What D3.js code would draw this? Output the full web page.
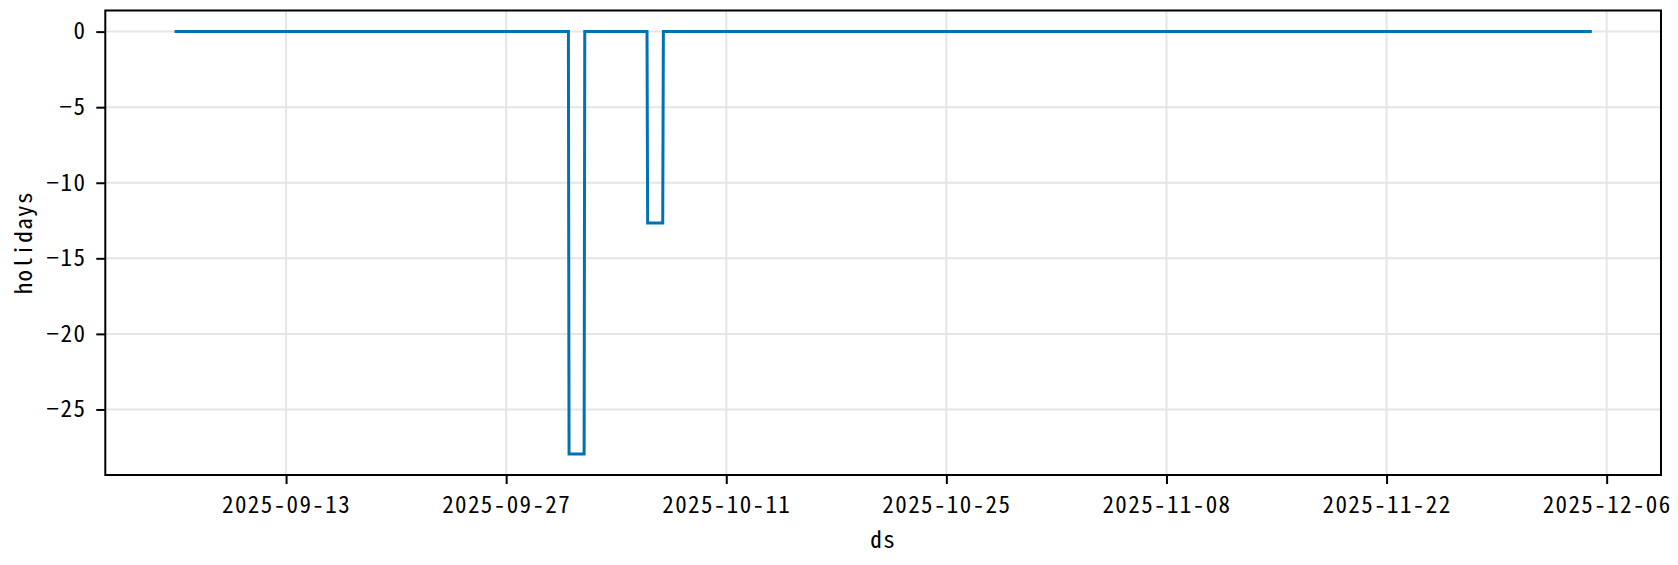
<!DOCTYPE html>
<html>
<head>
<meta charset="utf-8">
<script src="https://cdn.jsdelivr.net/npm/d3@7"></script>
<style>
  html, body { margin: 0; padding: 0; background: #fff; }
  svg text { font-family: "Noto Sans CJK JP", "Noto Sans", sans-serif; font-feature-settings: "hwid" 1; fill: #000; }
</style>
</head>
<body>
<svg id="chart" width="1678" height="565"></svg>
<script>
// ---- data (breakpoints of the holidays component, hourly series) ----
const dates = [
  "2025-09-06T00:00", "2025-09-30T23:00",
  "2025-10-01T00:00", "2025-10-01T23:00",
  "2025-10-02T00:00", "2025-10-05T23:00",
  "2025-10-06T00:00", "2025-10-06T23:00",
  "2025-10-07T00:00", "2025-12-04T23:00"
];
const holidays = [0, 0, -27.94, -27.94, 0, 0, -12.67, -12.67, 0, 0];
const xTickLabels = ["2025-09-13", "2025-09-27", "2025-10-11", "2025-10-25", "2025-11-08", "2025-11-22", "2025-12-06"];
const yTickValues = [0, -5, -10, -15, -20, -25];
const xLabel = "ds";
const yLabel = "holidays";

(function () {
const parse = d3.timeParse("%Y-%m-%dT%H:%M");
const parseDay = d3.timeParse("%Y-%m-%d");
const data = dates.map((d, i) => ({ ds: parse(d), v: holidays[i] }));

const W = 1678, H = 565;
const pL = 105.3, pR = 1661, pT = 10.5, pB = 475;

// matplotlib-style 5% margins
const xExt = d3.extent(data, d => d.ds);
const span = xExt[1] - xExt[0];
const xDom = [new Date(+xExt[0] - 0.05 * span), new Date(+xExt[1] + 0.05 * span)];
const yExt = d3.extent(data, d => d.v);
const ySpan = yExt[1] - yExt[0];
const yDom = [yExt[0] - 0.05 * ySpan, yExt[1] + 0.05 * ySpan];

const x = d3.scaleTime().domain(xDom).range([pL, pR]);
const y = d3.scaleLinear().domain(yDom).range([pB, pT]);

const svg = d3.select("#chart");
svg.append("rect").attr("width", W).attr("height", H).attr("fill", "#fff");

const xTicks = xTickLabels.map(parseDay);
const fmt = d3.timeFormat("%Y-%m-%d");

// grid
const grid = svg.append("g");
grid.selectAll("line.gx").data(xTicks).join("line").attr("class", "gx")
  .attr("x1", d => x(d)).attr("x2", d => x(d))
  .attr("y1", pT).attr("y2", pB)
  .attr("stroke", "#e5e5e5").attr("stroke-width", 2);
grid.selectAll("line.gy").data(yTickValues).join("line").attr("class", "gy")
  .attr("x1", pL).attr("x2", pR)
  .attr("y1", d => y(d)).attr("y2", d => y(d))
  .attr("stroke", "#e5e5e5").attr("stroke-width", 2);

// line
const line = d3.line().x(d => x(d.ds)).y(d => y(d.v));
svg.append("path").datum(data)
  .attr("d", line)
  .attr("fill", "none")
  .attr("stroke", "#0072B2")
  .attr("stroke-width", 3)
  .attr("stroke-linejoin", "miter")
  .attr("stroke-linecap", "square");

// axes
const xAxis = d3.axisBottom(x).tickValues(xTicks).tickFormat(fmt).tickSize(9).tickPadding(7);
const gx = svg.append("g").attr("transform", `translate(0,${pB})`).call(xAxis);
gx.select(".domain").remove();
gx.attr("font-family", null).attr("font-size", null);
gx.selectAll(".tick line").attr("stroke", "#000").attr("stroke-width", 2);
gx.selectAll(".tick text").attr("font-size", 23).attr("letter-spacing", 1.4).attr("dy", "0.95em");

const yAxis = d3.axisLeft(y).tickValues(yTickValues).tickFormat(d => String(d).replace("-", "\u2212")).tickSize(9).tickPadding(10);
const gy = svg.append("g").attr("transform", `translate(${pL},0)`).call(yAxis);
gy.select(".domain").remove();
gy.attr("font-family", null).attr("font-size", null);
gy.selectAll(".tick line").attr("stroke", "#000").attr("stroke-width", 2);
gy.selectAll(".tick text").attr("font-size", 23).attr("letter-spacing", 1.4);

// frame
svg.append("rect").attr("x", pL).attr("y", pT)
  .attr("width", pR - pL).attr("height", pB - pT)
  .attr("fill", "none").attr("stroke", "#000").attr("stroke-width", 2);

// labels
svg.append("text").attr("x", (pL + pR) / 2).attr("y", 548)
  .attr("text-anchor", "middle").attr("font-size", 23).attr("letter-spacing", 1.4).text(xLabel);
svg.append("text").attr("transform", `translate(32,${(pT + pB) / 2}) rotate(-90)`)
  .attr("text-anchor", "middle").attr("font-size", 23).attr("letter-spacing", 1.4).text(yLabel);
})();
</script>
</body>
</html>
